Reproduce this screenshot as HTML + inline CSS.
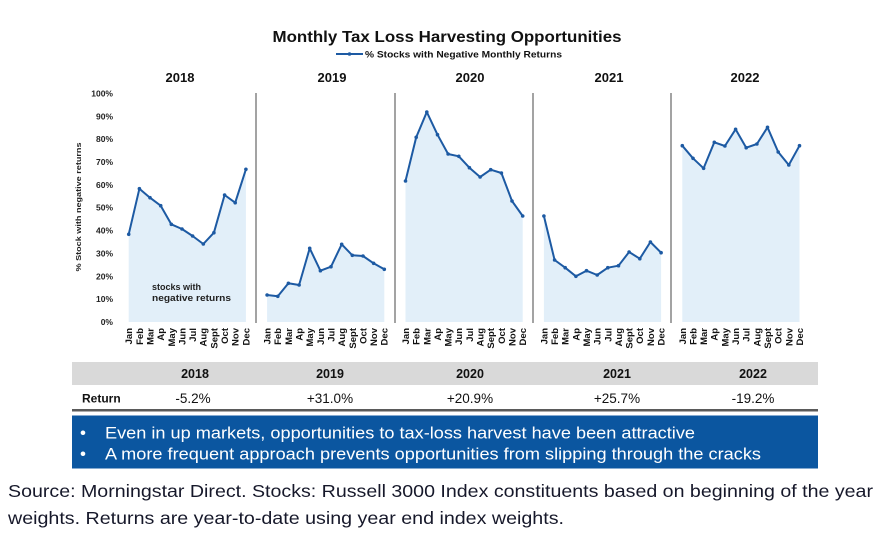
<!DOCTYPE html>
<html><head><meta charset="utf-8"><style>
html,body{margin:0;padding:0;background:#fff;}
svg{display:block;}
text{font-family:"Liberation Sans",Arial,sans-serif;}
.b{font-weight:bold;}
</style></head><body>
<svg width="879" height="538" viewBox="0 0 879 538" xmlns="http://www.w3.org/2000/svg">
<rect width="879" height="538" fill="#fff"/>
<!-- Title -->
<text x="447" y="42" text-anchor="middle" class="b" font-size="16" textLength="349" lengthAdjust="spacingAndGlyphs" fill="#111">Monthly Tax Loss Harvesting Opportunities</text>
<line x1="336" y1="54" x2="363" y2="54" stroke="#1d5aa3" stroke-width="2"/>
<circle cx="349.5" cy="54" r="1.8" fill="#1d5aa3"/>
<text x="365" y="57.5" class="b" font-size="9" textLength="197" lengthAdjust="spacingAndGlyphs" fill="#111">% Stocks with Negative Monthly Returns</text>

<!-- Year titles -->
<g class="b" font-size="13" text-anchor="middle" fill="#111">
<text x="180" y="82">2018</text>
<text x="332" y="82">2019</text>
<text x="470" y="82">2020</text>
<text x="609" y="82">2021</text>
<text x="745" y="82">2022</text>
</g>

<!-- Y axis -->
<g class="b" font-size="8.5" text-anchor="end" fill="#222">
<text x="113" y="325">0%</text>
<text x="113" y="302">10%</text>
<text x="113" y="279.3">20%</text>
<text x="113" y="256.4">30%</text>
<text x="113" y="233.6">40%</text>
<text x="113" y="210.7">50%</text>
<text x="113" y="187.9">60%</text>
<text x="113" y="165">70%</text>
<text x="113" y="142.2">80%</text>
<text x="113" y="119.3">90%</text>
<text x="113" y="96.5">100%</text>
</g>
<text transform="translate(81,207) rotate(-90)" text-anchor="middle" class="b" font-size="7.5" textLength="129" lengthAdjust="spacingAndGlyphs" fill="#222">% Stock with negative returns</text>

<!-- Dividers -->
<g stroke="#a3a3a3" stroke-width="2">
<line x1="256" y1="93" x2="256" y2="323"/>
<line x1="395" y1="93" x2="395" y2="323"/>
<line x1="533" y1="93" x2="533" y2="323"/>
<line x1="671" y1="93" x2="671" y2="323"/>
</g>

<!-- Areas -->
<g fill="#e2eff9">
<polygon points="128.7,322 128.7,234.3 139.4,188.7 150,197.7 160.7,205.7 171.3,224.3 182,229 192.6,236 203.3,244 213.9,232.7 224.6,195 235.2,202.7 245.9,169.3 245.9,322"/>
<polygon points="267.1,322 267.1,295 277.8,296.3 288.4,283.3 299.1,285 309.7,248.3 320.4,270.7 331,266.7 341.7,244.3 352.3,255.3 363,256 373.6,263.3 384.3,269.3 384.3,322"/>
<polygon points="405.5,322 405.5,181 416.2,137.3 426.8,112 437.5,134.7 448.1,154 458.8,156.3 469.4,167.7 480.1,177 490.7,169.7 501.4,173 512,201 522.7,216 522.7,322"/>
<polygon points="543.9,322 543.9,216 554.6,260 565.2,267.7 575.9,276.3 586.5,270.7 597.2,275 607.8,267.7 618.5,265.7 629.1,252 639.8,258.7 650.4,242 661.1,252.7 661.1,322"/>
<polygon points="682.3,322 682.3,145.7 693,158.3 703.6,168.3 714.3,142.3 724.9,146 735.6,129.3 746.2,147.7 756.9,144 767.5,127.3 778.2,152 788.8,165 799.5,145.7 799.5,322"/>
</g>

<!-- Lines -->
<g fill="none" stroke="#1d5aa3" stroke-width="2" stroke-linejoin="round">
<polyline points="128.7,234.3 139.4,188.7 150,197.7 160.7,205.7 171.3,224.3 182,229 192.6,236 203.3,244 213.9,232.7 224.6,195 235.2,202.7 245.9,169.3"/>
<polyline points="267.1,295 277.8,296.3 288.4,283.3 299.1,285 309.7,248.3 320.4,270.7 331,266.7 341.7,244.3 352.3,255.3 363,256 373.6,263.3 384.3,269.3"/>
<polyline points="405.5,181 416.2,137.3 426.8,112 437.5,134.7 448.1,154 458.8,156.3 469.4,167.7 480.1,177 490.7,169.7 501.4,173 512,201 522.7,216"/>
<polyline points="543.9,216 554.6,260 565.2,267.7 575.9,276.3 586.5,270.7 597.2,275 607.8,267.7 618.5,265.7 629.1,252 639.8,258.7 650.4,242 661.1,252.7"/>
<polyline points="682.3,145.7 693,158.3 703.6,168.3 714.3,142.3 724.9,146 735.6,129.3 746.2,147.7 756.9,144 767.5,127.3 778.2,152 788.8,165 799.5,145.7"/>
</g>
<g fill="#1d5aa3">
<circle cx="128.7" cy="234.3" r="1.8"/><circle cx="139.4" cy="188.7" r="1.8"/><circle cx="150" cy="197.7" r="1.8"/><circle cx="160.7" cy="205.7" r="1.8"/><circle cx="171.3" cy="224.3" r="1.8"/><circle cx="182" cy="229" r="1.8"/><circle cx="192.6" cy="236" r="1.8"/><circle cx="203.3" cy="244" r="1.8"/><circle cx="213.9" cy="232.7" r="1.8"/><circle cx="224.6" cy="195" r="1.8"/><circle cx="235.2" cy="202.7" r="1.8"/><circle cx="245.9" cy="169.3" r="1.8"/>
<circle cx="267.1" cy="295" r="1.8"/><circle cx="277.8" cy="296.3" r="1.8"/><circle cx="288.4" cy="283.3" r="1.8"/><circle cx="299.1" cy="285" r="1.8"/><circle cx="309.7" cy="248.3" r="1.8"/><circle cx="320.4" cy="270.7" r="1.8"/><circle cx="331" cy="266.7" r="1.8"/><circle cx="341.7" cy="244.3" r="1.8"/><circle cx="352.3" cy="255.3" r="1.8"/><circle cx="363" cy="256" r="1.8"/><circle cx="373.6" cy="263.3" r="1.8"/><circle cx="384.3" cy="269.3" r="1.8"/>
<circle cx="405.5" cy="181" r="1.8"/><circle cx="416.2" cy="137.3" r="1.8"/><circle cx="426.8" cy="112" r="1.8"/><circle cx="437.5" cy="134.7" r="1.8"/><circle cx="448.1" cy="154" r="1.8"/><circle cx="458.8" cy="156.3" r="1.8"/><circle cx="469.4" cy="167.7" r="1.8"/><circle cx="480.1" cy="177" r="1.8"/><circle cx="490.7" cy="169.7" r="1.8"/><circle cx="501.4" cy="173" r="1.8"/><circle cx="512" cy="201" r="1.8"/><circle cx="522.7" cy="216" r="1.8"/>
<circle cx="543.9" cy="216" r="1.8"/><circle cx="554.6" cy="260" r="1.8"/><circle cx="565.2" cy="267.7" r="1.8"/><circle cx="575.9" cy="276.3" r="1.8"/><circle cx="586.5" cy="270.7" r="1.8"/><circle cx="597.2" cy="275" r="1.8"/><circle cx="607.8" cy="267.7" r="1.8"/><circle cx="618.5" cy="265.7" r="1.8"/><circle cx="629.1" cy="252" r="1.8"/><circle cx="639.8" cy="258.7" r="1.8"/><circle cx="650.4" cy="242" r="1.8"/><circle cx="661.1" cy="252.7" r="1.8"/>
<circle cx="682.3" cy="145.7" r="1.8"/><circle cx="693" cy="158.3" r="1.8"/><circle cx="703.6" cy="168.3" r="1.8"/><circle cx="714.3" cy="142.3" r="1.8"/><circle cx="724.9" cy="146" r="1.8"/><circle cx="735.6" cy="129.3" r="1.8"/><circle cx="746.2" cy="147.7" r="1.8"/><circle cx="756.9" cy="144" r="1.8"/><circle cx="767.5" cy="127.3" r="1.8"/><circle cx="778.2" cy="152" r="1.8"/><circle cx="788.8" cy="165" r="1.8"/><circle cx="799.5" cy="145.7" r="1.8"/>
</g>

<!-- annotation -->
<text x="152" y="290" class="b" font-size="9" fill="#222">stocks with</text>
<text x="152" y="301" class="b" font-size="9" textLength="79" lengthAdjust="spacingAndGlyphs" fill="#222">negative returns</text>

<!-- Month labels -->
<g class="b" font-size="9.5" text-anchor="end" fill="#111">
<g transform="translate(128.7,0)">
<text transform="translate(3.5,328) rotate(-90)">Jan</text><text transform="translate(14.1,328) rotate(-90)">Feb</text><text transform="translate(24.8,328) rotate(-90)">Mar</text><text transform="translate(35.4,328) rotate(-90)">Ap</text><text transform="translate(46.1,328) rotate(-90)">May</text><text transform="translate(56.7,328) rotate(-90)">Jun</text><text transform="translate(67.4,328) rotate(-90)">Jul</text><text transform="translate(78,328) rotate(-90)">Aug</text><text transform="translate(88.7,328) rotate(-90)">Sept</text><text transform="translate(99.3,328) rotate(-90)">Oct</text><text transform="translate(110,328) rotate(-90)">Nov</text><text transform="translate(120.6,328) rotate(-90)">Dec</text>
</g>
<g transform="translate(267.1,0)">
<text transform="translate(3.5,328) rotate(-90)">Jan</text><text transform="translate(14.1,328) rotate(-90)">Feb</text><text transform="translate(24.8,328) rotate(-90)">Mar</text><text transform="translate(35.4,328) rotate(-90)">Ap</text><text transform="translate(46.1,328) rotate(-90)">May</text><text transform="translate(56.7,328) rotate(-90)">Jun</text><text transform="translate(67.4,328) rotate(-90)">Jul</text><text transform="translate(78,328) rotate(-90)">Aug</text><text transform="translate(88.7,328) rotate(-90)">Sept</text><text transform="translate(99.3,328) rotate(-90)">Oct</text><text transform="translate(110,328) rotate(-90)">Nov</text><text transform="translate(120.6,328) rotate(-90)">Dec</text>
</g>
<g transform="translate(405.5,0)">
<text transform="translate(3.5,328) rotate(-90)">Jan</text><text transform="translate(14.1,328) rotate(-90)">Feb</text><text transform="translate(24.8,328) rotate(-90)">Mar</text><text transform="translate(35.4,328) rotate(-90)">Ap</text><text transform="translate(46.1,328) rotate(-90)">May</text><text transform="translate(56.7,328) rotate(-90)">Jun</text><text transform="translate(67.4,328) rotate(-90)">Jul</text><text transform="translate(78,328) rotate(-90)">Aug</text><text transform="translate(88.7,328) rotate(-90)">Sept</text><text transform="translate(99.3,328) rotate(-90)">Oct</text><text transform="translate(110,328) rotate(-90)">Nov</text><text transform="translate(120.6,328) rotate(-90)">Dec</text>
</g>
<g transform="translate(543.9,0)">
<text transform="translate(3.5,328) rotate(-90)">Jan</text><text transform="translate(14.1,328) rotate(-90)">Feb</text><text transform="translate(24.8,328) rotate(-90)">Mar</text><text transform="translate(35.4,328) rotate(-90)">Ap</text><text transform="translate(46.1,328) rotate(-90)">May</text><text transform="translate(56.7,328) rotate(-90)">Jun</text><text transform="translate(67.4,328) rotate(-90)">Jul</text><text transform="translate(78,328) rotate(-90)">Aug</text><text transform="translate(88.7,328) rotate(-90)">Sept</text><text transform="translate(99.3,328) rotate(-90)">Oct</text><text transform="translate(110,328) rotate(-90)">Nov</text><text transform="translate(120.6,328) rotate(-90)">Dec</text>
</g>
<g transform="translate(682.3,0)">
<text transform="translate(3.5,328) rotate(-90)">Jan</text><text transform="translate(14.1,328) rotate(-90)">Feb</text><text transform="translate(24.8,328) rotate(-90)">Mar</text><text transform="translate(35.4,328) rotate(-90)">Ap</text><text transform="translate(46.1,328) rotate(-90)">May</text><text transform="translate(56.7,328) rotate(-90)">Jun</text><text transform="translate(67.4,328) rotate(-90)">Jul</text><text transform="translate(78,328) rotate(-90)">Aug</text><text transform="translate(88.7,328) rotate(-90)">Sept</text><text transform="translate(99.3,328) rotate(-90)">Oct</text><text transform="translate(110,328) rotate(-90)">Nov</text><text transform="translate(120.6,328) rotate(-90)">Dec</text>
</g>
</g>

<!-- Table -->
<rect x="72" y="362" width="746" height="23" fill="#d9d9d9"/>
<g class="b" font-size="12.5" text-anchor="middle" fill="#111">
<text x="195" y="378">2018</text>
<text x="330" y="378">2019</text>
<text x="470" y="378">2020</text>
<text x="617" y="378">2021</text>
<text x="753" y="378">2022</text>
</g>
<text x="82" y="402.5" class="b" font-size="12" fill="#111">Return</text>
<g font-size="13.5" text-anchor="middle" fill="#111">
<text x="193" y="403">-5.2%</text>
<text x="330" y="403">+31.0%</text>
<text x="470" y="403">+20.9%</text>
<text x="617" y="403">+25.7%</text>
<text x="753" y="403">-19.2%</text>
</g>
<rect x="72" y="409" width="746" height="2.5" fill="#5a5a5a"/>
<rect x="72" y="415.5" width="746" height="53" fill="#0b56a0"/>
<g fill="#fff" font-size="17">
<text x="80" y="438.5">•</text>
<text x="80" y="459.5">•</text>
<text x="105" y="438.5" textLength="590" lengthAdjust="spacingAndGlyphs">Even in up markets, opportunities to tax-loss harvest have been attractive</text>
<text x="105" y="459.5" textLength="656" lengthAdjust="spacingAndGlyphs">A more frequent approach prevents opportunities from slipping through the cracks</text>
</g>

<!-- Footer -->
<g font-size="17.5" fill="#16182a">
<text x="8" y="497" textLength="865" lengthAdjust="spacingAndGlyphs">Source: Morningstar Direct. Stocks: Russell 3000 Index constituents based on beginning of the year</text>
<text x="8" y="524" textLength="556" lengthAdjust="spacingAndGlyphs">weights. Returns are year-to-date using year end index weights.</text>
</g>
</svg>
</body></html>
